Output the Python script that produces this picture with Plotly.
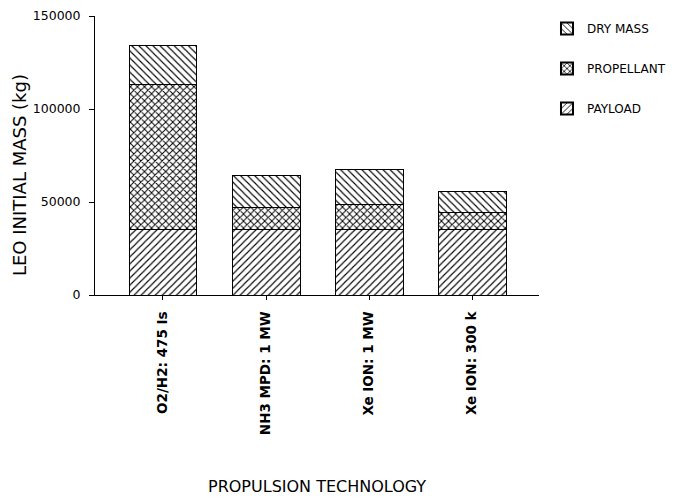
import plotly.graph_objects as go

categories = ["O2/H2: 475 Is", "NH3 MPD: 1 MW", "Xe ION: 1 MW", "Xe ION: 300 k"]
payload = [35000, 35000, 35000, 35000]
propellant = [78000, 12000, 13400, 9600]
dry_mass = [21000, 17000, 19100, 10800]
yticks = [0, 50000, 100000, 150000]

FONT = "DejaVu Sans"

fig = go.Figure()
series = [
    ("PAYLOAD", payload, "/", 3),
    ("PROPELLANT", propellant, "x", 2),
    ("DRY MASS", dry_mass, "\\", 1),
]
for name, vals, shape, rank in series:
    fig.add_trace(go.Bar(
        x=list(range(len(categories))), y=vals, name=name, legendgroup=name,
        legendrank=rank,
        marker=dict(color="white",
                    line=dict(color="black", width=1),
                    pattern=dict(shape=shape, fgcolor="black", bgcolor="white",
                                 fgopacity=1, size=5,
                                 solidity=0.22 if shape != "x" else 0.35)),
        width=0.66,
    ))

fig.update_layout(
    barmode="stack",
    width=667, height=491,
    margin=dict(l=87, r=136, t=8, b=204, autoexpand=False),
    paper_bgcolor="white", plot_bgcolor="white",
    font=dict(family=FONT, color="black", size=11),
    showlegend=True,
    legend=dict(x=1.018, y=1.007, xanchor="left", yanchor="top",
                traceorder="grouped", font=dict(size=12, family=FONT),
                tracegroupgap=21, itemsizing="constant",
                bgcolor="rgba(0,0,0,0)"),
    xaxis=dict(
        range=[-0.66, 3.65], automargin=False,
        tickmode="array", tickvals=list(range(len(categories))), ticktext=categories,
        tickangle=-90, ticks="outside", ticklen=4, tickcolor="black",
        ticklabelstandoff=6,
        showline=True, linecolor="black", linewidth=1,
        showgrid=False, zeroline=False,
        tickfont=dict(size=13.5, family=FONT, weight="bold"),
    ),
    yaxis=dict(
        range=[0, 150000], automargin=False,
        tickmode="array", tickvals=yticks, ticktext=[str(v) for v in yticks],
        ticks="outside", ticklen=5, tickcolor="black",
        ticklabelstandoff=6,
        showline=True, linecolor="black", linewidth=1,
        showgrid=False, zeroline=False,
        tickfont=dict(size=12.5, family=FONT),
    ),
    annotations=[
        dict(text="PROPULSION TECHNOLOGY", xref="paper", yref="paper",
             x=0.5, y=-0.688, xanchor="center", yanchor="middle", showarrow=False,
             font=dict(size=16, family=FONT)),
        dict(text="LEO INITIAL MASS (kg)", xref="paper", yref="paper",
             x=-0.171, y=0.43, xanchor="center", yanchor="middle", showarrow=False,
             textangle=-90, font=dict(size=18, family=FONT)),
    ],
)

fig.write_html("out.html")
